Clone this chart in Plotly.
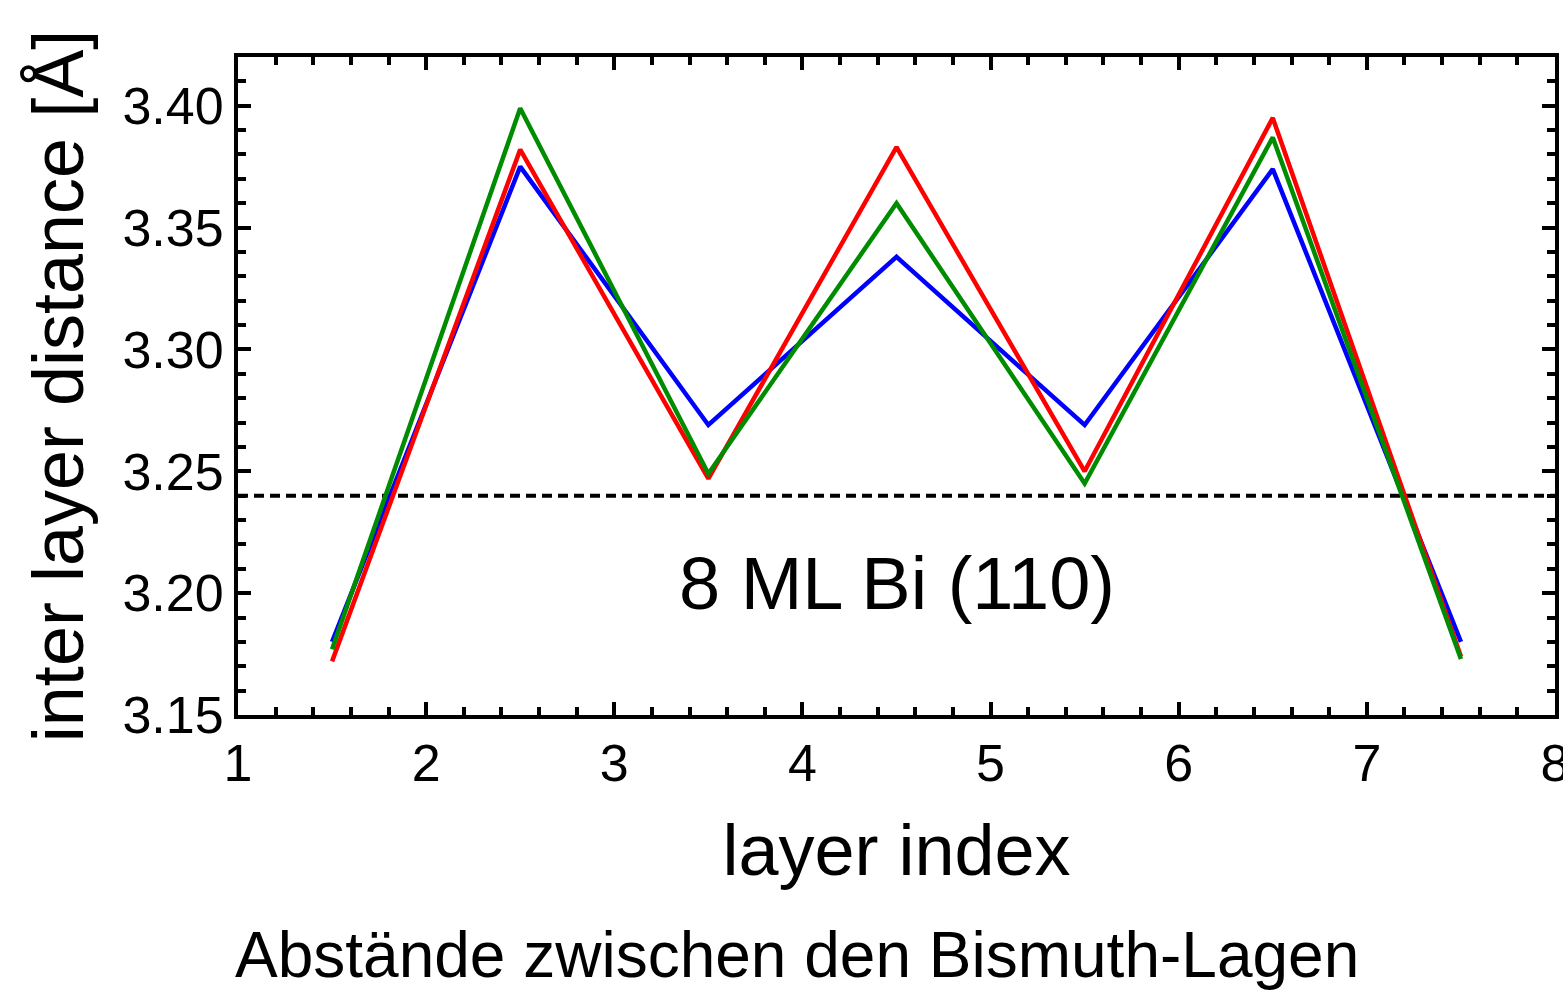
import plotly.graph_objects as go

# layer-pair positions (between layer n and n+1)
layer_pos = [1.5, 2.5, 3.5, 4.5, 5.5, 6.5, 7.5]

# inter layer distances in Angstrom for three calculations
dist_blue = [3.180, 3.375, 3.269, 3.338, 3.269, 3.374, 3.180]
dist_red = [3.172, 3.382, 3.247, 3.383, 3.250, 3.395, 3.174]
dist_green = [3.177, 3.399, 3.249, 3.360, 3.245, 3.387, 3.173]

bulk_distance = 3.24
x_range = [1, 8]
y_range = [3.15, 3.42]
x_ticks = [1, 2, 3, 4, 5, 6, 7, 8]
y_ticks = [3.15, 3.20, 3.25, 3.30, 3.35, 3.40]
y_tick_text = ["3.15", "3.20", "3.25", "3.30", "3.35", "3.40"]

FONT = "Liberation Sans, Arial, sans-serif"

fig = go.Figure()

# reference bulk spacing
fig.add_trace(go.Scatter(
    x=x_range, y=[bulk_distance, bulk_distance], mode="lines",
    line=dict(color="black", width=4, dash="10px,6px"),
    hoverinfo="skip", showlegend=False,
))

for ys, col in [(dist_blue, "#0000FF"), (dist_red, "#FF0000"), (dist_green, "#008C00")]:
    fig.add_trace(go.Scatter(
        x=layer_pos, y=ys, mode="lines",
        line=dict(color=col, width=4.5),
        showlegend=False,
    ))

axis_common = dict(
    showgrid=False, zeroline=False, automargin=False,
    showline=True, linecolor="black", linewidth=4,
    mirror="ticks", ticks="inside", tickwidth=3.5, tickcolor="black",
    ticklen=13, ticklabeloverflow="allow",
    tickfont=dict(family=FONT, size=52, color="black"),
)

fig.update_xaxes(
    range=x_range, tickvals=x_ticks, ticktext=[str(v) for v in x_ticks],
    minor=dict(dtick=0.2, tick0=1, ticks="inside", ticklen=8, tickwidth=3.5, tickcolor="black"),
    title=dict(text="layer index", font=dict(family=FONT, size=72, color="black"), standoff=34),
    **axis_common,
)
fig.update_yaxes(
    range=y_range, tickvals=y_ticks, ticktext=y_tick_text,
    minor=dict(dtick=0.01, tick0=3.15, ticks="inside", ticklen=8, tickwidth=3.5, tickcolor="black"),
    title=dict(text="inter layer distance [Å]", font=dict(family=FONT, size=72, color="black"), standoff=16),
    **axis_common,
)

fig.add_annotation(
    x=4.5, y=3.204, xref="x", yref="y", text="8 ML Bi (110)", showarrow=False,
    font=dict(family=FONT, size=74, color="black"),
)

plot_w = 1563 - 238 - 8
plot_h = 1000 - 57 - 285
fig.add_annotation(
    x=(797 - 238) / plot_w, y=(715 - 955) / plot_h, xref="paper", yref="paper",
    yanchor="middle", text="Abstände zwischen den Bismuth-Lagen",
    showarrow=False, font=dict(family=FONT, size=64, color="black"),
)

fig.update_layout(
    width=1563, height=1000,
    margin=dict(l=238, r=8, t=57, b=285),
    plot_bgcolor="white", paper_bgcolor="white",
)

fig.write_html("out.html")
